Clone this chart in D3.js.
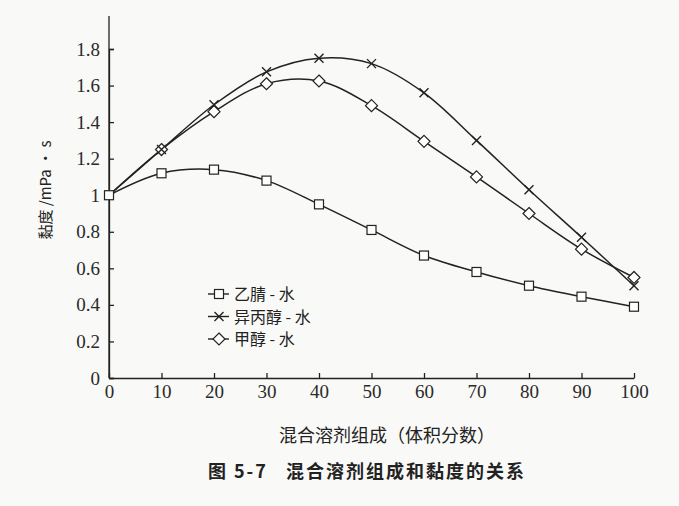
<!DOCTYPE html>
<html>
<head>
<meta charset="utf-8">
<script src="https://cdn.jsdelivr.net/npm/d3@7"></script>
<style>
  body { margin: 0; background: #f9f9f7; }
  svg { display: block; }
  .axis path, .axis line { stroke: #222; stroke-width: 1.3; }
</style>
</head>
<body>
<script>
'use strict';

// volume fraction of organic solvent
const composition = [0, 10, 20, 30, 40, 50, 60, 70, 80, 90, 100];
// viscosity, mPa·s
const acetonitrile = [1.0, 1.12, 1.14, 1.08, 0.95, 0.81, 0.67, 0.58, 0.505, 0.445, 0.39];
const isopropanol = [1.0, 1.25, 1.495, 1.675, 1.75, 1.72, 1.56, 1.30, 1.03, 0.77, 0.505];
const methanol = [1.0, 1.25, 1.457, 1.61, 1.625, 1.49, 1.295, 1.10, 0.90, 0.705, 0.55];

const seriesNames = ["乙腈 - 水", "异丙醇 - 水", "甲醇 - 水"];
const seriesMarks = ["square", "cross", "diamond"];
const yTicks = [0, 0.2, 0.4, 0.6, 0.8, 1.0, 1.2, 1.4, 1.6, 1.8];
const xTicks = [0, 10, 20, 30, 40, 50, 60, 70, 80, 90, 100];

const width = 679, height = 506;
const ink = "#222";

const svg = d3.select("body").append("svg")
  .attr("width", width)
  .attr("height", height);

const x = d3.scaleLinear().domain([0, 100]).range([109, 634]);
const y = d3.scaleLinear().domain([0, 1.8]).range([378, 49]);

// y axis line runs a bit past the last tick
svg.append("line")
  .attr("x1", x(0)).attr("x2", x(0))
  .attr("y1", y(0)).attr("y2", y(1.98))
  .attr("stroke", ink).attr("stroke-width", 1.3);

svg.append("g")
  .attr("class", "axis")
  .attr("transform", "translate(" + x(0) + ",0)")
  .call(d3.axisLeft(y).tickValues(yTicks).tickSize(-5).tickPadding(9)
    .tickFormat(d => String(+d.toFixed(1))))
  .selectAll("text")
    .style("font-family", "'Liberation Serif', serif")
    .style("font-size", "19px")
    .attr("fill", "#2a2a2a");

svg.append("g")
  .attr("class", "axis")
  .attr("transform", "translate(0," + y(0) + ")")
  .call(d3.axisBottom(x).tickValues(xTicks).tickSize(-5).tickPadding(7).tickSizeOuter(0))
  .selectAll("text")
    .style("font-family", "'Liberation Serif', serif")
    .style("font-size", "19px")
    .attr("fill", "#2a2a2a");

// draw a marker at px,py
function drawMark(g, kind, px, py) {
  if (kind === "square") {
    g.append("rect")
      .attr("x", px - 4.5).attr("y", py - 4.5)
      .attr("width", 9).attr("height", 9)
      .attr("fill", "#fff").attr("stroke", ink).attr("stroke-width", 1.2);
  } else if (kind === "diamond") {
    g.append("path")
      .attr("d", "M" + px + "," + (py - 6) + "L" + (px + 6) + "," + py + "L" + px + "," + (py + 6) + "L" + (px - 6) + "," + py + "Z")
      .attr("fill", "#fff").attr("stroke", ink).attr("stroke-width", 1.2);
  } else {
    g.append("path")
      .attr("d", "M" + (px - 4.5) + "," + (py - 4.5) + "L" + (px + 4.5) + "," + (py + 4.5) +
        "M" + (px + 4.5) + "," + (py - 4.5) + "L" + (px - 4.5) + "," + (py + 4.5))
      .attr("fill", "none").attr("stroke", ink).attr("stroke-width", 1.4);
  }
}

const line = d3.line()
  .x((d, i) => x(composition[i]))
  .y(d => y(d))
  .curve(d3.curveCatmullRom.alpha(0.5));

const allSeries = [acetonitrile, isopropanol, methanol];

allSeries.forEach(values => {
  svg.append("path")
    .datum(values)
    .attr("fill", "none")
    .attr("stroke", ink)
    .attr("stroke-width", 1.5)
    .attr("d", line);
});

// markers on top of all lines
[methanol, isopropanol, acetonitrile].forEach(values => {
  const s = allSeries.indexOf(values);
  const g = svg.append("g");
  values.forEach((v, i) => {
    if (i === 0 && s !== 0) return; // shared start point drawn as square
    drawMark(g, seriesMarks[s], x(composition[i]), y(v));
  });
});

// legend
const legend = svg.append("g").attr("transform", "translate(208,294)");
seriesNames.forEach((name, i) => {
  const ly = i * 22.5;
  legend.append("line")
    .attr("x1", 0).attr("x2", 21)
    .attr("y1", ly).attr("y2", ly)
    .attr("stroke", ink).attr("stroke-width", 1.4);
  drawMark(legend, seriesMarks[i], 11, ly);
  legend.append("text")
    .attr("x", 26).attr("y", ly + 6)
    .style("font-family", "'Noto Sans CJK SC', sans-serif")
    .style("font-size", "16px")
    .attr("fill", ink)
    .text(name);
});

// axis titles
svg.append("text")
  .attr("transform", "translate(51,190)rotate(-90)")
  .attr("text-anchor", "middle")
  .style("font-family", "'Noto Sans CJK SC', sans-serif")
  .style("font-size", "15px")
  .attr("fill", ink)
  .text("黏度 /mPa · s");

svg.append("text")
  .attr("x", 387).attr("y", 442)
  .attr("text-anchor", "middle")
  .style("font-family", "'Noto Sans CJK SC', sans-serif")
  .style("font-size", "18px")
  .attr("fill", ink)
  .text("混合溶剂组成（体积分数）");

svg.append("text")
  .attr("x", 367).attr("y", 478)
  .attr("text-anchor", "middle")
  .style("font-family", "'Noto Sans CJK SC', sans-serif")
  .style("font-size", "18px")
  .style("font-weight", "bold")
  .style("letter-spacing", "2px")
  .attr("fill", ink)
  .attr("xml:space", "preserve")
  .text("图 5-7   混合溶剂组成和黏度的关系");
</script>
</body>
</html>
